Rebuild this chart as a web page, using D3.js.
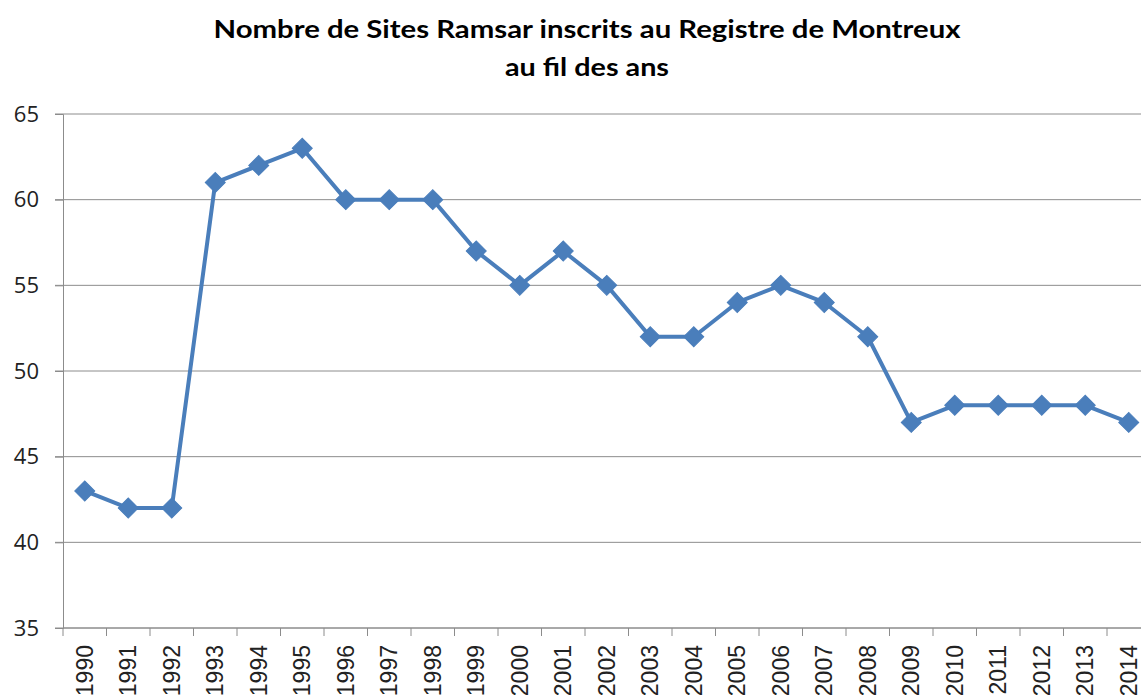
<!DOCTYPE html>
<html><head><meta charset="utf-8">
<script src="https://cdn.jsdelivr.net/npm/d3@7"></script>
<style>body{margin:0;background:#fff}svg{display:block}</style>
</head><body>
<script>
const years = ["1990","1991","1992","1993","1994","1995","1996","1997","1998","1999","2000","2001","2002","2003","2004","2005","2006","2007","2008","2009","2010","2011","2012","2013","2014"];
const sites = [43,42,42,61,62,63,60,60,60,57,55,57,55,52,52,54,55,54,52,47,48,48,48,48,47];
const yTicks = [35,40,45,50,55,60,65];
const titleLines = ["Nombre de Sites Ramsar inscrits au Registre de Montreux","au fil des ans"];

(function(){
const W = 1141, H = 695;
const svg = d3.select("body").append("svg").attr("width", W).attr("height", H);
const pLeft = 63, pRight = 1150.5, pTop = 114, pBottom = 628;
const x = d3.scaleBand().domain(years).range([pLeft, pRight]);
const y = d3.scaleLinear().domain([35, 65]).range([pBottom, pTop]);

// title
const titleWidths = [747, 164];
svg.append("g").selectAll("text").data(titleLines).join("text")
  .attr("x", 587).attr("y", (d,i) => 38 + i*38)
  .attr("text-anchor", "middle")
  .attr("font-family", "Lato, 'Open Sans', sans-serif").attr("font-weight", "bold")
  .attr("font-size", 25).attr("fill", "#000")
  .attr("textLength", (d,i) => titleWidths[i]).attr("lengthAdjust", "spacingAndGlyphs")
  .text(d => d);

// gridlines
svg.append("g").selectAll("line").data(yTicks).join("line")
  .attr("x1", pLeft - 8).attr("x2", W).attr("y1", d => y(d)).attr("y2", d => y(d))
  .attr("stroke", "#8c8c8c").attr("stroke-width", 1);

// y axis
const ya = svg.append("g").attr("transform", `translate(${pLeft},0)`)
  .call(d3.axisLeft(y).tickValues(yTicks).tickSize(8).tickPadding(16));
ya.select(".domain").attr("stroke", "#8c8c8c");
ya.selectAll(".tick line").attr("stroke", "#8c8c8c");
ya.selectAll("text").attr("font-family", "'Open Sans', sans-serif").attr("font-size", 22).attr("fill", "#222");

// x axis
const xa = svg.append("g").attr("transform", `translate(0,${pBottom})`)
  .call(d3.axisBottom(x).tickSize(0).tickPadding(0));
xa.select(".domain").remove();
xa.selectAll(".tick text")
  .attr("transform", "rotate(-90)").attr("text-anchor", "end")
  .attr("x", -17).attr("y", 0).attr("dy", "0.35em")
  .attr("font-family", "'Liberation Sans', Arial, sans-serif").attr("font-size", 23).attr("fill", "#222");
svg.append("line").attr("x1", pLeft).attr("x2", W).attr("y1", pBottom).attr("y2", pBottom).attr("stroke", "#8c8c8c");
svg.append("g").selectAll("line").data(years).join("line")
  .attr("x1", d => x(d)).attr("x2", d => x(d)).attr("y1", pBottom).attr("y2", pBottom + 8)
  .attr("stroke", "#8c8c8c");

// line
const cx = d => x(d) + x.bandwidth()/2;
const line = d3.line().x((d,i) => cx(years[i])).y(d => y(d));
svg.append("path").datum(sites).attr("d", line)
  .attr("fill", "none").attr("stroke", "#4a7ebb").attr("stroke-width", 4).attr("stroke-linejoin", "round");

// markers
svg.append("g").selectAll("path").data(sites).join("path")
  .attr("d", d3.symbol().type(d3.symbolSquare).size(200))
  .attr("transform", (d,i) => `translate(${cx(years[i])},${y(d)}) rotate(45)`)
  .attr("fill", "#4a7ebb").attr("stroke", "#4a7ebb").attr("stroke-width", 1);
})();
</script>
</body></html>
